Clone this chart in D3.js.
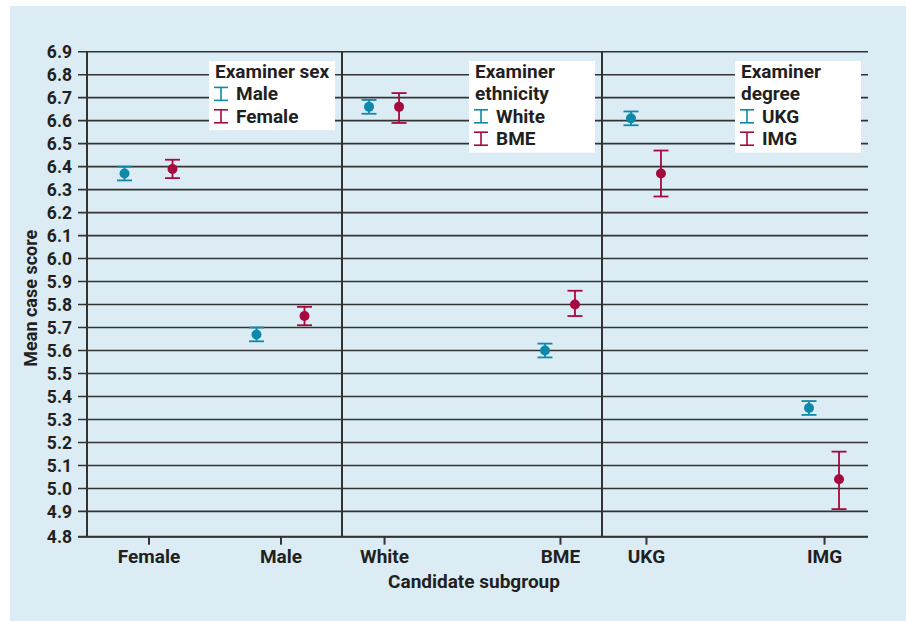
<!DOCTYPE html>
<html>
<head>
<meta charset="utf-8">
<script src="https://cdn.jsdelivr.net/npm/d3@7"></script>
<style>
  html, body { margin: 0; padding: 0; background: #ffffff; }
  svg { display: block; font-family: Roboto, "Noto Sans", sans-serif; font-weight: 700; }
</style>
</head>
<body>
<svg id="chart" width="906" height="621"></svg>
<script>
// ---------------- data ----------------
const panelNames = ["Examiner sex", "Examiner ethnicity", "Examiner degree"];
const legendTitleLines = [["Examiner sex"], ["Examiner", "ethnicity"], ["Examiner", "degree"]];
const examinerGroups = [["Male", "Female"], ["White", "BME"], ["UKG", "IMG"]];
const candidateGroups = [["Female", "Male"], ["White", "BME"], ["UKG", "IMG"]];

// first examiner group of each panel (Male / White / UKG), per candidate subgroup
const firstMean = [6.37, 5.67, 6.66, 5.60, 6.61, 5.35];
const firstLow  = [6.34, 5.64, 6.63, 5.57, 6.58, 5.32];
const firstHigh = [6.40, 5.70, 6.69, 5.63, 6.64, 5.38];
// second examiner group of each panel (Female / BME / IMG)
const secondMean = [6.39, 5.75, 6.66, 5.80, 6.37, 5.04];
const secondLow  = [6.35, 5.71, 6.59, 5.75, 6.27, 4.91];
const secondHigh = [6.43, 5.79, 6.72, 5.86, 6.47, 5.16];

const yTicks = [4.79, 4.9, 5.0, 5.1, 5.2, 5.3, 5.4, 5.5, 5.6, 5.7, 5.8, 5.9, 6.0, 6.1, 6.2, 6.3, 6.4, 6.5, 6.6, 6.7, 6.8, 6.9];
const yTitle = "Mean case score";
const xTitle = "Candidate subgroup";

// ---------------- layout / style ----------------
const W = 906, H = 621;
const plotLeft = 87, plotRight = 868, plotTop = 51.7, plotBottom = 536.7;
const panelEdges = [87, 342, 602, 868];
const panelPadding = [0.466, 0.239, 0.247];
const dodge = [24, 15, 15];
const colors = ["#0f89aa", "#a40a3e"];
const ink = "#231f20";
const gridColor = "#333333";
const bg = "#dbecf4";

const svg = d3.select("#chart");
svg.append("rect").attr("x", 10).attr("y", 6).attr("width", W - 10).attr("height", H - 6).attr("fill", bg);

const y = d3.scaleLinear().domain([4.79, 6.9]).range([plotBottom, plotTop]);

// gridlines (with tick stubs left of axis)
svg.append("g").selectAll("line").data(yTicks).join("line")
  .attr("x1", plotLeft - 9).attr("x2", plotRight)
  .attr("y1", d => y(d)).attr("y2", d => y(d))
  .attr("stroke", gridColor).attr("stroke-width", 1.6);

// y axis labels
const yAxis = d3.axisLeft(y).tickValues(yTicks).tickFormat(d3.format(".1f")).tickSize(0).tickPadding(15);
const gy = svg.append("g").attr("transform", `translate(${plotLeft},0)`).call(yAxis);
gy.select(".domain").remove();
gy.selectAll("text").attr("fill", ink).attr("font-size", 17.5).attr("font-family", "Roboto").attr("font-weight", 700);

// left axis line & separators & bottom axis
svg.append("g").selectAll("line").data(panelEdges.slice(0, 3)).join("line")
  .attr("x1", d => d).attr("x2", d => d)
  .attr("y1", plotTop).attr("y2", plotBottom)
  .attr("stroke", gridColor).attr("stroke-width", 2);
svg.append("line").attr("x1", plotLeft - 9).attr("x2", plotRight)
  .attr("y1", plotBottom).attr("y2", plotBottom)
  .attr("stroke", gridColor).attr("stroke-width", 2);

// panels
panelNames.forEach((name, p) => {
  const x = d3.scalePoint().domain(candidateGroups[p])
    .range([panelEdges[p], panelEdges[p + 1]]).padding(panelPadding[p]);

  const xAxis = d3.axisBottom(x).tickSize(8).tickPadding(5);
  const gx = svg.append("g").attr("transform", `translate(0,${plotBottom})`).call(xAxis);
  gx.select(".domain").remove();
  gx.selectAll("line").attr("stroke", gridColor).attr("stroke-width", 2);
  gx.selectAll("text").attr("fill", ink).attr("font-size", 19).attr("font-family", "Roboto").attr("font-weight", 700);

  const series = [
    { mean: firstMean, low: firstLow, high: firstHigh, off: -dodge[p], color: colors[0] },
    { mean: secondMean, low: secondLow, high: secondHigh, off: dodge[p], color: colors[1] }
  ];
  series.forEach(s => {
    const pts = candidateGroups[p].map((c, i) => ({
      cx: x(c) + s.off, m: s.mean[p * 2 + i], lo: s.low[p * 2 + i], hi: s.high[p * 2 + i]
    }));
    const g = svg.append("g");
    g.selectAll("line.v").data(pts).join("line").attr("class", "v")
      .attr("x1", d => d.cx).attr("x2", d => d.cx)
      .attr("y1", d => y(d.lo)).attr("y2", d => y(d.hi))
      .attr("stroke", s.color).attr("stroke-width", 1.8);
    g.selectAll("line.t").data(pts).join("line").attr("class", "t")
      .attr("x1", d => d.cx - 7.5).attr("x2", d => d.cx + 7.5)
      .attr("y1", d => y(d.hi)).attr("y2", d => y(d.hi))
      .attr("stroke", s.color).attr("stroke-width", 1.8);
    g.selectAll("line.b").data(pts).join("line").attr("class", "b")
      .attr("x1", d => d.cx - 7.5).attr("x2", d => d.cx + 7.5)
      .attr("y1", d => y(d.lo)).attr("y2", d => y(d.lo))
      .attr("stroke", s.color).attr("stroke-width", 1.8);
    g.selectAll("circle").data(pts).join("circle")
      .attr("cx", d => d.cx).attr("cy", d => y(d.m)).attr("r", 5)
      .attr("fill", s.color);
  });

  // legend
  const titleLines = legendTitleLines[p];
  const lineH = 22.4;
  const nLines = titleLines.length + 2;
  const boxW = 126;
  const boxX = panelEdges[p + 1] - 7 - boxW;
  const boxY = 61;
  const lg = svg.append("g");
  lg.append("rect").attr("x", boxX).attr("y", boxY).attr("width", boxW)
    .attr("height", nLines * lineH + 2).attr("fill", "#ffffff");
  titleLines.forEach((t, i) => {
    lg.append("text").attr("x", boxX + 6).attr("y", boxY + 17 + i * lineH)
      .attr("fill", ink).attr("font-size", 19).text(t);
  });
  examinerGroups[p].forEach((e, i) => {
    const base = boxY + 17 + (titleLines.length + i) * lineH;
    const cx = boxX + 12;
    const c = colors[i];
    lg.append("line").attr("x1", cx).attr("x2", cx).attr("y1", base - 13).attr("y2", base)
      .attr("stroke", c).attr("stroke-width", 1.6);
    lg.append("line").attr("x1", cx - 7).attr("x2", cx + 7).attr("y1", base - 13).attr("y2", base - 13)
      .attr("stroke", c).attr("stroke-width", 1.6);
    lg.append("line").attr("x1", cx - 7).attr("x2", cx + 7).attr("y1", base).attr("y2", base)
      .attr("stroke", c).attr("stroke-width", 1.6);
    lg.append("text").attr("x", boxX + 27).attr("y", base)
      .attr("fill", ink).attr("font-size", 19).text(e);
  });
});

// axis titles
svg.append("text").attr("transform", `translate(36.5,${(plotTop + plotBottom) / 2 + 4}) rotate(-90)`)
  .attr("text-anchor", "middle").attr("fill", ink).attr("font-size", 18).text(yTitle);
svg.append("text").attr("x", 474).attr("y", 588)
  .attr("text-anchor", "middle").attr("fill", ink).attr("font-size", 19).text(xTitle);
</script>
</body>
</html>
